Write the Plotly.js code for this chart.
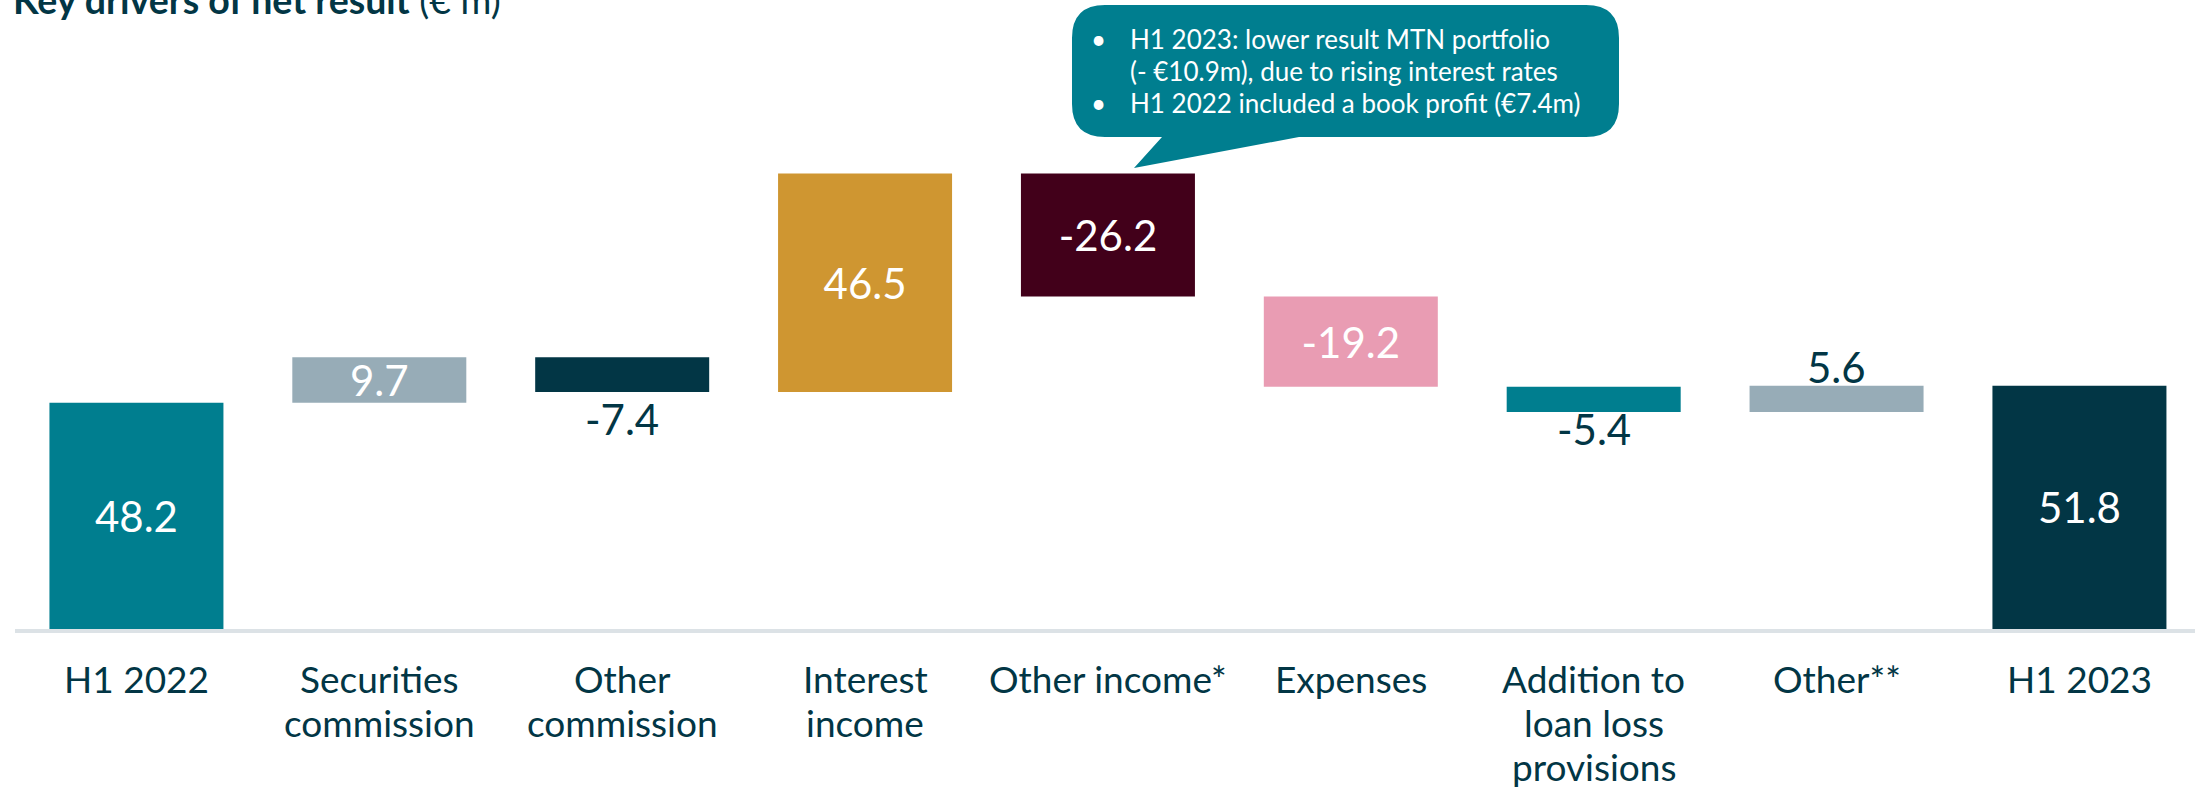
<!DOCTYPE html>
<html>
<head>
<meta charset="utf-8">
<script src="https://cdn.plot.ly/plotly-3.0.1.min.js"></script>
<style>
  html, body { margin: 0; padding: 0; background: #ffffff; }
  #chart { width: 2195px; height: 788px; }
</style>
</head>
<body>
<div id="chart"></div>
<script>
// ---- data ----
var categories = [
  "H1 2022",
  "Securities<br>commission",
  "Other<br>commission",
  "Interest<br>income",
  "Other income*",
  "Expenses",
  "Addition to<br>loan loss<br>provisions",
  "Other**",
  "H1 2023"
];
var values = [48.2, 9.7, -7.4, 46.5, -26.2, -19.2, -5.4, 5.6, 51.8];
var measures = ["total", "relative", "relative", "relative", "relative", "relative", "relative", "relative", "total"];
var calloutLines = [
  "H1 2023: lower result MTN portfolio",
  "(- €10.9m), due to rising interest rates",
  "H1 2022 included a book profit (€7.4m)"
];
var calloutBullets = [true, false, true];
var titleBold = "Key drivers of net result";
var titleUnit = " (€ m)";

// ---- styles ----
var barColors = ["#007E8F", "#97ACB7", "#023645", "#CF9631", "#42001A", "#E99CB3", "#007E8F", "#97ACB7", "#023645"];
var labelInside = [true, true, false, true, true, true, false, false, true];
var dark = "#023645";
var teal = "#007E8F";
var FONT = "Lato, 'Open Sans', sans-serif";

// ---- waterfall geometry from the data ----
var bases = [], heights = [], ends = [];
var running = 0;
for (var i = 0; i < values.length; i++) {
  if (measures[i] === "total") {
    bases.push(0); heights.push(values[i]); running = values[i];
  } else {
    bases.push(running); heights.push(values[i]); running += values[i];
  }
  ends.push(bases[i] + heights[i]);
}
var texts = values.map(function (v, i) { return labelInside[i] ? v.toFixed(1) : ""; });

// ---- plot area in pixels ----
var W = 2195, H = 788;
var mL = 15, mR = 0, mT = 0, mB = 159;
var plotW = W - mL - mR, plotH = H - mT - mB;
function px2x(px) { return (px - mL) / plotW; }
function px2y(py) { return (mT + plotH - py) / plotH; }

var trace = {
  type: "bar",
  x: categories,
  y: heights,
  base: bases,
  marker: { color: barColors, line: { width: 0 } },
  text: texts,
  textposition: "inside",
  insidetextanchor: "middle",
  constraintext: "none",
  insidetextfont: { family: FONT, size: 42, color: "#ffffff" },
  hoverinfo: "skip",
  cliponaxis: false
};

var annotations = [];
// outside value labels
var outsideShift = { 2: 0, 6: 10, 7: -8 };
values.forEach(function (v, i) {
  if (labelInside[i]) return;
  var top = Math.max(bases[i], ends[i]);
  var bottom = Math.min(bases[i], ends[i]);
  var above = v > 0;
  annotations.push({
    x: categories[i], y: above ? top : bottom,
    xref: "x", yref: "y",
    text: v.toFixed(1),
    showarrow: false,
    xanchor: "center",
    yanchor: above ? "bottom" : "top",
    yshift: outsideShift[i] || 0,
    font: { family: FONT, size: 42, color: dark }
  });
});

// category labels (one annotation per line for exact line spacing)
var tickFont = 37, tickBase = 693, tickStep = 44;
categories.forEach(function (c) {
  c.split("<br>").forEach(function (line, j) {
    annotations.push({
      x: c, xref: "x", yref: "paper",
      y: px2y(tickBase + j * tickStep - 0.387 * tickFont),
      xanchor: "center", yanchor: "middle",
      text: line, showarrow: false,
      font: { family: FONT, size: tickFont, color: dark }
    });
  });
});

// title (cut at top edge, as in the reference)
var titleFont = 37.5;
annotations.push({
  xref: "paper", yref: "paper",
  x: px2x(11), y: px2y(14 - 0.387 * titleFont),
  xanchor: "left", yanchor: "middle",
  text: "<b>" + titleBold + "</b>" + titleUnit,
  showarrow: false,
  font: { family: FONT, size: titleFont, color: dark }
});

// callout texts
var baselines = [49.3, 81.5, 113.3];
var cFont = 26;
calloutLines.forEach(function (line, i) {
  var cy = baselines[i] - 0.387 * cFont;
  annotations.push({
    xref: "paper", yref: "paper",
    x: px2x(1128), y: px2y(cy),
    xanchor: "left", yanchor: "middle",
    text: line, showarrow: false,
    font: { family: FONT, size: cFont, color: "#ffffff" }
  });
  if (calloutBullets[i]) {
    annotations.push({
      xref: "paper", yref: "paper",
      x: px2x(1098), y: px2y(cy),
      xanchor: "center", yanchor: "middle",
      text: "•", showarrow: false,
      font: { family: FONT, size: cFont, color: "#ffffff" }
    });
  }
});

// callout bubble shape (rounded box with a tail), in paper coords
function P(px, py) { return px2x(px).toFixed(6) + "," + px2y(py).toFixed(6); }
var bx0 = 1072, bx1 = 1619, by0 = 5, by1 = 137, r = 33;
var path =
  "M" + P(bx0 + r, by0) +
  " L" + P(bx1 - r, by0) +
  " Q" + P(bx1, by0) + " " + P(bx1, by0 + r) +
  " L" + P(bx1, by1 - r) +
  " Q" + P(bx1, by1) + " " + P(bx1 - r, by1) +
  " L" + P(1299, by1) +
  " L" + P(1134, 168) +
  " L" + P(1162, by1) +
  " L" + P(bx0 + r, by1) +
  " Q" + P(bx0, by1) + " " + P(bx0, by1 - r) +
  " L" + P(bx0, by0 + r) +
  " Q" + P(bx0, by0) + " " + P(bx0 + r, by0) + " Z";

var layout = {
  width: W, height: H, autosize: false,
  margin: { l: mL, r: mR, t: mT, b: mB, pad: 0 },
  paper_bgcolor: "#ffffff", plot_bgcolor: "#ffffff",
  showlegend: false,
  hovermode: false,
  bargap: 0.2836,
  font: { family: FONT, color: dark },
  xaxis: {
    type: "category",
    range: [-0.5, -0.5 + plotW / 242.875],
    showline: true, linecolor: "#DCE2E6", linewidth: 3.5,
    ticks: "", showgrid: false, zeroline: false,
    showticklabels: false,
    fixedrange: true
  },
  yaxis: {
    visible: false,
    range: [0, plotH / 4.695],
    showgrid: false, zeroline: false, fixedrange: true
  },
  shapes: [{
    type: "path", xref: "paper", yref: "paper",
    path: path,
    fillcolor: teal, line: { width: 0 }, layer: "above"
  }],
  annotations: annotations
};

Plotly.newPlot("chart", [trace], layout, { displayModeBar: false, staticPlot: true });
</script>
</body>
</html>
